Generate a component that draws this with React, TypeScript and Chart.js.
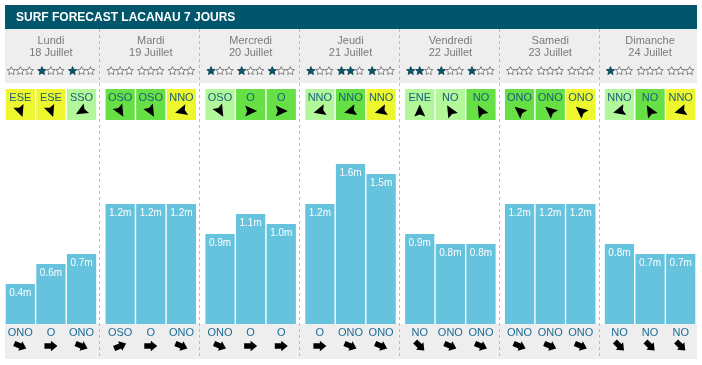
import { useEffect, useRef } from "react";
import { Chart, registerables } from "chart.js";

Chart.register(...registerables);

const TITLE = "SURF FORECAST LACANAU 7 JOURS";
const DAYS = ["Lundi", "Mardi", "Mercredi", "Jeudi", "Vendredi", "Samedi", "Dimanche"];
const DATES = ["18 Juillet", "19 Juillet", "20 Juillet", "21 Juillet", "22 Juillet", "23 Juillet", "24 Juillet"];

// wave heights (m) for the three slots of each day
const WAVES_SLOT1 = [0.4, 1.2, 0.9, 1.2, 0.9, 1.2, 0.8];
const WAVES_SLOT2 = [0.6, 1.2, 1.1, 1.6, 0.8, 1.2, 0.7];
const WAVES_SLOT3 = [0.7, 1.2, 1.0, 1.5, 0.8, 1.2, 0.7];

// stars (filled count out of 3) per day / slot
const STARS = [[0, 1, 1], [0, 0, 0], [1, 1, 1], [1, 2, 1], [2, 1, 1], [0, 0, 0], [1, 0, 0]];

// wind direction labels per day / slot
const WIND_DIR = [
  ["ESE", "ESE", "SSO"], ["OSO", "OSO", "NNO"], ["OSO", "O", "O"], ["NNO", "NNO", "NNO"],
  ["ENE", "NO", "NO"], ["ONO", "ONO", "ONO"], ["NNO", "NO", "NNO"],
];
// wind quality: 0 light green, 1 green, 2 yellow
const WIND_LEVEL = [
  [2, 2, 0], [1, 1, 2], [0, 1, 1], [0, 1, 2], [0, 0, 1], [1, 1, 2], [0, 1, 2],
];
// wind arrow heading (degrees, compass) as drawn
const WIND_ARROW = [
  [160, 160, 240], [150, 150, 255], [150, 90, 90], [255, 255, 255],
  [0, 330, 330], [310, 310, 310], [255, 330, 255],
];
// swell direction labels per day / slot
const SWELL_DIR = [
  ["ONO", "O", "ONO"], ["OSO", "O", "ONO"], ["ONO", "O", "O"], ["O", "ONO", "ONO"],
  ["NO", "ONO", "ONO"], ["ONO", "ONO", "ONO"], ["NO", "NO", "NO"],
];
const COMPASS: Record<string, number> = { O: 270, ONO: 292.5, NO: 315, OSO: 247.5, NNO: 337.5 };

const BAR_COLOR = "#66c3de";
const TEAL = "#02566b";
const GREY_BG = "#eeeeee";
const WIND_COLORS = ["#b2f89b", "#66e045", "#eef72e"];
const FONT = "'Liberation Sans', Arial, sans-serif";

function drawStar(ctx: CanvasRenderingContext2D, cx: number, cy: number, R: number, filled: boolean) {
  const r = R * 0.45;
  ctx.beginPath();
  for (let k = 0; k < 10; k++) {
    const rad = k % 2 === 0 ? R : r;
    const a = -Math.PI / 2 + (k * Math.PI) / 5;
    const px = cx + rad * Math.cos(a);
    const py = cy + rad * Math.sin(a);
    if (k === 0) ctx.moveTo(px, py);
    else ctx.lineTo(px, py);
  }
  ctx.closePath();
  if (filled) {
    ctx.fillStyle = TEAL;
    ctx.fill();
    ctx.strokeStyle = "#0b3b47";
  } else {
    ctx.fillStyle = "#ffffff";
    ctx.fill();
    ctx.strokeStyle = "#666666";
  }
  ctx.lineWidth = 0.8;
  ctx.stroke();
}

function drawDart(ctx: CanvasRenderingContext2D, cx: number, cy: number, heading: number) {
  ctx.save();
  ctx.translate(cx, cy);
  ctx.rotate(((heading - 90) * Math.PI) / 180);
  ctx.beginPath();
  ctx.moveTo(6.5, 0);
  ctx.lineTo(-5.5, -5.5);
  ctx.lineTo(-3.5, 0);
  ctx.lineTo(-5.5, 5.5);
  ctx.closePath();
  ctx.fillStyle = "#000000";
  ctx.fill();
  ctx.restore();
}

function drawBlockArrow(ctx: CanvasRenderingContext2D, cx: number, cy: number, heading: number) {
  ctx.save();
  ctx.translate(cx, cy);
  ctx.rotate(((heading - 90) * Math.PI) / 180);
  ctx.beginPath();
  ctx.moveTo(-6.5, -2.8);
  ctx.lineTo(0, -2.8);
  ctx.lineTo(0, -5.2);
  ctx.lineTo(6.5, 0);
  ctx.lineTo(0, 5.2);
  ctx.lineTo(0, 2.8);
  ctx.lineTo(-6.5, 2.8);
  ctx.closePath();
  ctx.fillStyle = "#000000";
  ctx.fill();
  ctx.restore();
}

const decorPlugin = {
  id: "surfDecor",
  beforeDraw(chart: any) {
    const ctx: CanvasRenderingContext2D = chart.ctx;
    const base = chart.scales.y.getPixelForValue(0);
    ctx.save();
    ctx.fillStyle = TEAL;
    ctx.fillRect(5, 5, 692, 24);
    ctx.fillStyle = GREY_BG;
    ctx.fillRect(5, 29, 692, 54);
    ctx.fillRect(5, base, 692, 35);
    ctx.fillStyle = "#ffffff";
    ctx.font = `bold 12px ${FONT}`;
    ctx.textAlign = "left";
    ctx.textBaseline = "middle";
    ctx.fillText(TITLE, 16, 17.5);
    ctx.restore();
  },
  afterDatasetsDraw(chart: any) {
    const ctx: CanvasRenderingContext2D = chart.ctx;
    const xs = chart.scales.x;
    const base = chart.scales.y.getPixelForValue(0);
    ctx.save();

    // separators
    ctx.strokeStyle = "#bbbbbb";
    ctx.lineWidth = 1;
    ctx.setLineDash([3, 3]);
    for (let i = 0; i < DAYS.length - 1; i++) {
      const bx = Math.floor((xs.getPixelForValue(i) + xs.getPixelForValue(i + 1)) / 2) - 0.5;
      ctx.beginPath();
      ctx.moveTo(bx, 29);
      ctx.lineTo(bx, base + 35);
      ctx.stroke();
    }
    ctx.setLineDash([]);

    // day header texts
    ctx.textAlign = "center";
    ctx.textBaseline = "middle";
    ctx.fillStyle = "#7a7a7a";
    ctx.font = `11px ${FONT}`;
    for (let i = 0; i < DAYS.length; i++) {
      const cx = xs.getPixelForValue(i);
      ctx.fillText(DAYS[i], cx, 40.5);
      ctx.fillText(DATES[i], cx, 52.5);
    }

    for (let s = 0; s < 3; s++) {
      const meta = chart.getDatasetMeta(s);
      meta.data.forEach((el: any, i: number) => {
        const p = el.getProps(["x", "y", "width"], true);
        const left = p.x - p.width / 2;
        // stars
        for (let k = 0; k < 3; k++) {
          drawStar(ctx, p.x + (k - 1) * 9, 71, 4.4, k < STARS[i][s]);
        }
        // wind box
        ctx.fillStyle = WIND_COLORS[WIND_LEVEL[i][s]];
        ctx.fillRect(left, 89, p.width, 31);
        ctx.fillStyle = "#17607a";
        ctx.font = `11px ${FONT}`;
        ctx.fillText(WIND_DIR[i][s], p.x, 97.5);
        drawDart(ctx, p.x, 111, WIND_ARROW[i][s]);
        // value label
        const v = chart.data.datasets[s].data[i];
        ctx.fillStyle = "#ffffff";
        ctx.font = `10px ${FONT}`;
        ctx.fillText(`${v.toFixed(1)}m`, p.x, p.y + 9);
        // swell
        ctx.fillStyle = "#1b6c99";
        ctx.font = `11px ${FONT}`;
        ctx.fillText(SWELL_DIR[i][s], p.x, base + 8.5);
        drawBlockArrow(ctx, p.x, base + 22, (COMPASS[SWELL_DIR[i][s]] + 180) % 360);
      });
    }
    ctx.restore();
  },
};

export default function App() {
  const ref = useRef<HTMLCanvasElement | null>(null);
  useEffect(() => {
    if (!ref.current) return;
    const slots = [WAVES_SLOT1, WAVES_SLOT2, WAVES_SLOT3];
    const chart = new Chart(ref.current, {
      type: "bar",
      data: {
        labels: DAYS,
        datasets: slots.map((d, k) => ({
          label: `slot${k + 1}`,
          data: d,
          backgroundColor: BAR_COLOR,
          borderWidth: 0,
          categoryPercentage: 0.92,
          barPercentage: 0.955,
        })),
      },
      options: {
        responsive: false,
        animation: false,
        layout: { padding: { left: 1, right: 2, top: 124, bottom: 41 } },
        scales: {
          x: { display: false },
          y: { display: false, min: 0, max: 2 },
        },
        plugins: {
          legend: { display: false },
          tooltip: { enabled: false },
          title: { display: false },
        },
      },
      plugins: [decorPlugin],
    });
    return () => chart.destroy();
  }, []);
  return (
    <div style={{ position: "absolute", left: 0, top: 0, width: 702, height: 365, background: "#fff" }}>
      <canvas ref={ref} width={702} height={365} style={{ display: "block", width: 702, height: 365 }} />
    </div>
  );
}
